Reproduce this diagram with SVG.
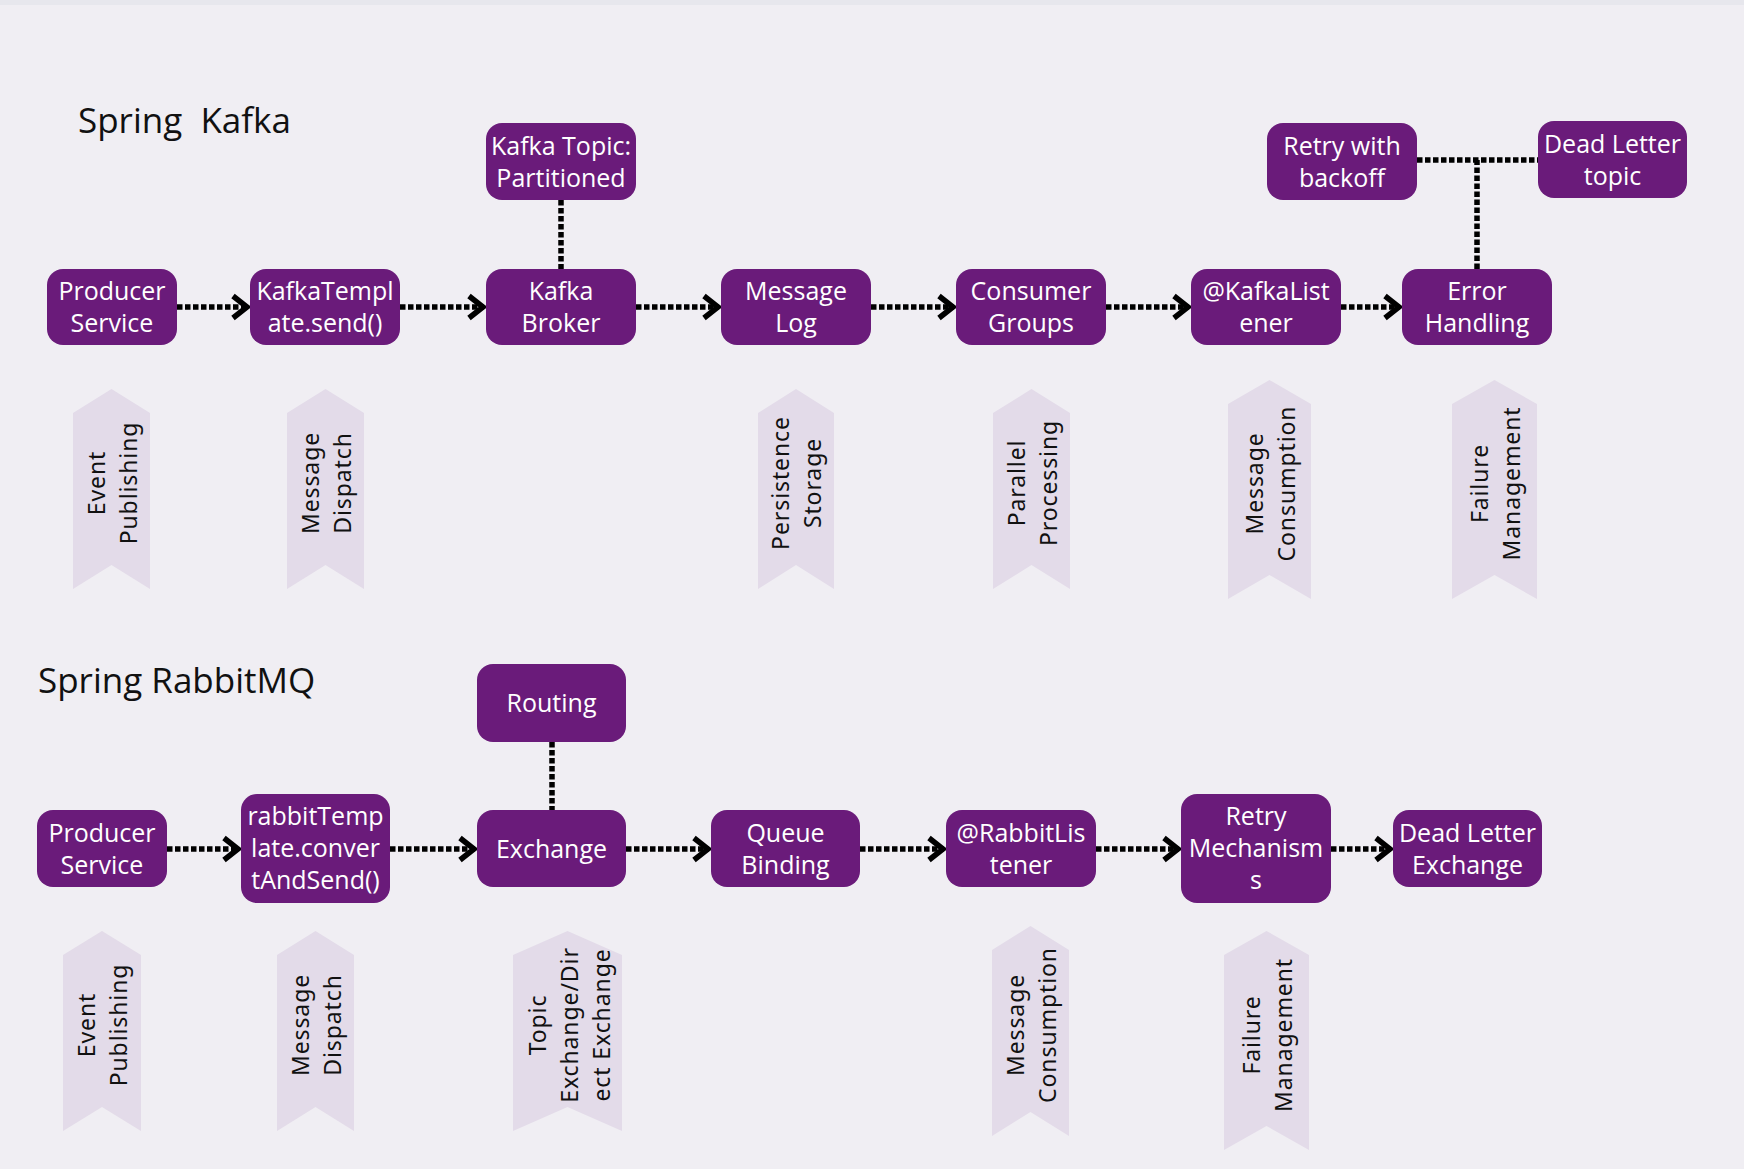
<svg xmlns="http://www.w3.org/2000/svg" width="1744" height="1169" viewBox="0 0 1744 1169">
<defs>
<style>
.bg{fill:#f0eef3}
.node rect{fill:#6a1b7a}
.node text{fill:#ffffff;font-family:"Open Sans","Noto Sans",sans-serif;font-size:25px;text-anchor:middle}
.title{fill:#111111;font-family:"Open Sans","Noto Sans",sans-serif;font-size:35px;white-space:pre}
.rib polygon{fill:#e3dbe9}
.rib text{fill:#111111;font-family:"Noto Sans","Open Sans",sans-serif;font-size:23px;letter-spacing:0.9px;text-anchor:middle}
.conn line{stroke:#000000;stroke-width:5.5;stroke-dasharray:5.5 2.5;fill:none}
.arr{marker-end:url(#chev)}
</style>
<marker id="chev" markerUnits="userSpaceOnUse" markerWidth="24" markerHeight="30" viewBox="0 0 24 30" refX="19" refY="15" orient="auto">
<path d="M4,4 L18,15 L4,26" fill="none" stroke="#000000" stroke-width="5.5" stroke-dasharray="none" stroke-linejoin="miter" stroke-miterlimit="4"/>
</marker>
</defs>
<rect class="bg" x="0" y="0" width="1744" height="1169"/>
<rect x="0" y="0" width="1744" height="5" fill="#e7e7ed"/>

<text class="title" x="78" y="133">Spring  Kafka</text>
<text class="title" x="38" y="693">Spring RabbitMQ</text>

<g id="connectors" class="conn">
<line class="arr" x1="177" y1="307" x2="248" y2="307"/>
<line class="arr" x1="400" y1="307" x2="484" y2="307"/>
<line class="arr" x1="636" y1="307" x2="719" y2="307"/>
<line class="arr" x1="871" y1="307" x2="954" y2="307"/>
<line class="arr" x1="1106" y1="307" x2="1189" y2="307"/>
<line class="arr" x1="1341" y1="307" x2="1400" y2="307"/>
<line x1="561" y1="200" x2="561" y2="269"/>
<line x1="1477" y1="269" x2="1477" y2="160"/>
<line x1="1417" y1="160" x2="1538" y2="160"/>
<line class="arr" x1="167" y1="849" x2="239" y2="849"/>
<line class="arr" x1="390" y1="849" x2="475" y2="849"/>
<line class="arr" x1="626" y1="849" x2="709" y2="849"/>
<line class="arr" x1="860" y1="849" x2="944" y2="849"/>
<line class="arr" x1="1096" y1="849" x2="1179" y2="849"/>
<line class="arr" x1="1331" y1="849" x2="1391" y2="849"/>
<line x1="552" y1="742" x2="552" y2="810"/>
</g>

<g id="k-producer" class="node"><rect x="47" y="269" width="130" height="76" rx="16"/><text x="112" y="300">Producer</text><text x="112" y="332">Service</text></g>
<g id="k-template" class="node"><rect x="250" y="269" width="150" height="76" rx="16"/><text x="325" y="300">KafkaTempl</text><text x="325" y="332">ate.send()</text></g>
<g id="k-broker" class="node"><rect x="486" y="269" width="150" height="76" rx="16"/><text x="561" y="300">Kafka</text><text x="561" y="332">Broker</text></g>
<g id="k-log" class="node"><rect x="721" y="269" width="150" height="76" rx="16"/><text x="796" y="300">Message</text><text x="796" y="332">Log</text></g>
<g id="k-groups" class="node"><rect x="956" y="269" width="150" height="76" rx="16"/><text x="1031" y="300">Consumer</text><text x="1031" y="332">Groups</text></g>
<g id="k-listener" class="node"><rect x="1191" y="269" width="150" height="76" rx="16"/><text x="1266" y="300">@KafkaList</text><text x="1266" y="332">ener</text></g>
<g id="k-error" class="node"><rect x="1402" y="269" width="150" height="76" rx="16"/><text x="1477" y="300">Error</text><text x="1477" y="332">Handling</text></g>
<g id="k-topic" class="node"><rect x="486" y="123" width="150" height="77" rx="16"/><text x="561" y="154.5">Kafka Topic:</text><text x="561" y="186.5">Partitioned</text></g>
<g id="k-retry" class="node"><rect x="1267" y="123" width="150" height="77" rx="16"/><text x="1342" y="154.5">Retry with</text><text x="1342" y="186.5">backoff</text></g>
<g id="k-dlt" class="node"><rect x="1538" y="121" width="149" height="77" rx="16"/><text x="1612.5" y="152.5">Dead Letter</text><text x="1612.5" y="184.5">topic</text></g>

<g id="r-producer" class="node"><rect x="37" y="810" width="130" height="77" rx="16"/><text x="102" y="841.5">Producer</text><text x="102" y="873.5">Service</text></g>
<g id="r-template" class="node"><rect x="241" y="794" width="149" height="109" rx="16"/><text x="315.5" y="825">rabbitTemp</text><text x="315.5" y="857">late.conver</text><text x="315.5" y="889">tAndSend()</text></g>
<g id="r-routing" class="node"><rect x="477" y="664" width="149" height="78" rx="16"/><text x="551.5" y="712">Routing</text></g>
<g id="r-exchange" class="node"><rect x="477" y="810" width="149" height="77" rx="16"/><text x="551.5" y="857.5">Exchange</text></g>
<g id="r-queue" class="node"><rect x="711" y="810" width="149" height="77" rx="16"/><text x="785.5" y="841.5">Queue</text><text x="785.5" y="873.5">Binding</text></g>
<g id="r-listener" class="node"><rect x="946" y="810" width="150" height="77" rx="16"/><text x="1021" y="841.5">@RabbitLis</text><text x="1021" y="873.5">tener</text></g>
<g id="r-retry" class="node"><rect x="1181" y="794" width="150" height="109" rx="16"/><text x="1256" y="825">Retry</text><text x="1256" y="857">Mechanism</text><text x="1256" y="889">s</text></g>
<g id="r-dle" class="node"><rect x="1393" y="810" width="149" height="77" rx="16"/><text x="1467.5" y="841.5">Dead Letter</text><text x="1467.5" y="873.5">Exchange</text></g>

<g id="kr-event" class="rib"><polygon points="73,413 111.5,389 150,413 150,589 111.5,565 73,589"/><text transform="translate(111.5,483) rotate(-90)"><tspan x="0" y="-7">Event</tspan><tspan x="0" y="25">Publishing</tspan></text></g>
<g id="kr-dispatch" class="rib"><polygon points="287,413 325.5,389 364,413 364,589 325.5,565 287,589"/><text transform="translate(325.5,483) rotate(-90)"><tspan x="0" y="-7">Message</tspan><tspan x="0" y="25">Dispatch</tspan></text></g>
<g id="kr-persist" class="rib"><polygon points="758,413 796,389 834,413 834,589 796,565 758,589"/><text transform="translate(796,483) rotate(-90)"><tspan x="0" y="-7">Persistence</tspan><tspan x="0" y="25">Storage</tspan></text></g>
<g id="kr-parallel" class="rib"><polygon points="993,413 1031.5,389 1070,413 1070,589 1031.5,565 993,589"/><text transform="translate(1031.5,483) rotate(-90)"><tspan x="0" y="-7">Parallel</tspan><tspan x="0" y="25">Processing</tspan></text></g>
<g id="kr-consume" class="rib"><polygon points="1228,404 1269.5,380 1311,404 1311,599 1269.5,575 1228,599"/><text transform="translate(1269.5,483.5) rotate(-90)"><tspan x="0" y="-7">Message</tspan><tspan x="0" y="25">Consumption</tspan></text></g>
<g id="kr-failure" class="rib"><polygon points="1452,404 1494.5,380 1537,404 1537,599 1494.5,575 1452,599"/><text transform="translate(1494.5,483.5) rotate(-90)"><tspan x="0" y="-7">Failure</tspan><tspan x="0" y="25">Management</tspan></text></g>

<g id="rr-event" class="rib"><polygon points="63,955 102,931 141,955 141,1131 102,1107 63,1131"/><text transform="translate(102,1025) rotate(-90)"><tspan x="0" y="-7">Event</tspan><tspan x="0" y="25">Publishing</tspan></text></g>
<g id="rr-dispatch" class="rib"><polygon points="277,955 315.5,931 354,955 354,1131 315.5,1107 277,1131"/><text transform="translate(315.5,1025) rotate(-90)"><tspan x="0" y="-7">Message</tspan><tspan x="0" y="25">Dispatch</tspan></text></g>
<g id="rr-topic" class="rib"><polygon points="513,955 567.5,931 622,955 622,1131 567.5,1107 513,1131"/><text transform="translate(567.5,1025) rotate(-90)"><tspan x="0" y="-22">Topic</tspan><tspan x="0" y="10">Exchange/Dir</tspan><tspan x="0" y="42">ect Exchange</tspan></text></g>
<g id="rr-consume" class="rib"><polygon points="992,950 1030.5,926 1069,950 1069,1136 1030.5,1112 992,1136"/><text transform="translate(1030.5,1025) rotate(-90)"><tspan x="0" y="-7">Message</tspan><tspan x="0" y="25">Consumption</tspan></text></g>
<g id="rr-failure" class="rib"><polygon points="1224,955 1266.5,931 1309,955 1309,1150 1266.5,1126 1224,1150"/><text transform="translate(1266.5,1035) rotate(-90)"><tspan x="0" y="-7">Failure</tspan><tspan x="0" y="25">Management</tspan></text></g>
</svg>
